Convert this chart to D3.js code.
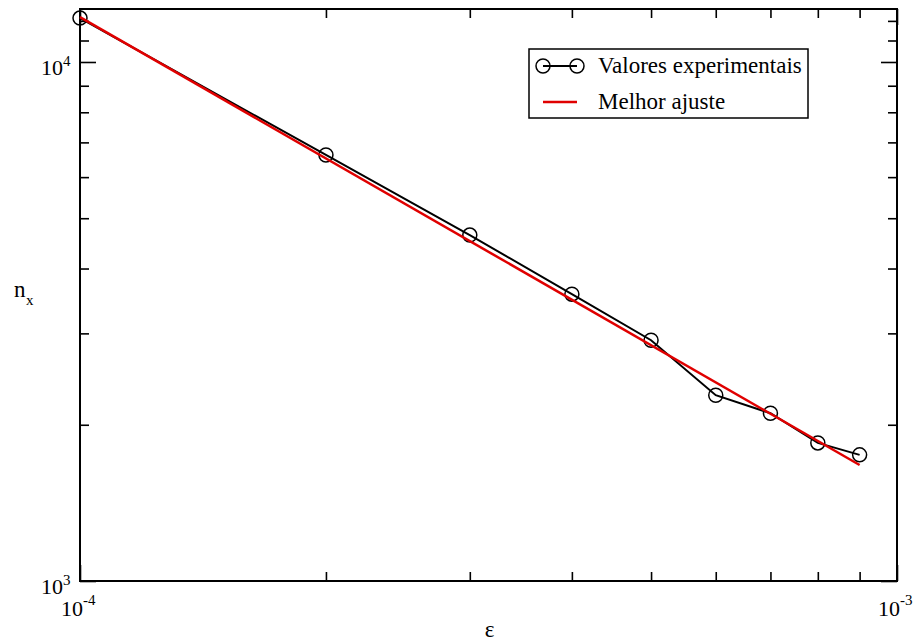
<!DOCTYPE html>
<html>
<head>
<meta charset="utf-8">
<script src="https://cdn.jsdelivr.net/npm/d3@7"></script>
</head>
<body style="margin:0">
<svg id="chart" width="919" height="644" font-family="Liberation Serif"></svg>
<script>
// ---- data ----
const epsilon = [1e-4, 2e-4, 3e-4, 4e-4, 5e-4, 6e-4, 7e-4, 8e-4, 9e-4];
const nx = [12150, 6620, 4640, 3570, 2910, 2280, 2105, 1845, 1750];
const fitEps = [1e-4, 9e-4];
const fitN = [12200, 1673];
const xMajorTicks = [1e-4, 1e-3];
const xMajorExp = ["-4", "-3"];
const xMinorTicks = [2e-4, 3e-4, 4e-4, 5e-4, 6e-4, 7e-4, 8e-4, 9e-4];
const yMajorTicks = [1000, 10000];
const yMajorExp = ["3", "4"];
const yMinorTicks = [2000, 3000, 4000, 5000, 6000, 7000, 8000, 9000, 11000, 12000];
const legendLabels = ["Valores experimentais", "Melhor ajuste"];
const xTitle = "ε";
const yTitle = "n";
const yTitleSub = "x";

// ---- layout ----
const W = 919, H = 644;
const m = { left: 80, right: 22, top: 9, bottom: 63 };
const x0 = m.left, x1 = W - m.right, y0 = H - m.bottom, y1 = m.top;
const FONT = "Liberation Serif";

const svg = d3.select("#chart");
const x = d3.scaleLog().domain([1e-4, 1e-3]).range([x0, x1]);
const y = d3.scaleLog().domain([1000, 12650]).range([y0, y1]);

const g = svg.append("g");

// ticks (inside, mirrored)
function tickAxis(axisFn, scale, ticks, size, transform) {
  const a = axisFn(scale).tickValues(ticks).tickSize(-size).tickFormat("");
  const ax = g.append("g").attr("transform", transform).call(a);
  ax.select(".domain").remove();
  ax.selectAll(".tick line").attr("stroke", "#000").attr("stroke-width", 1.6);
}
const MAJ = 16, MIN = 9;
tickAxis(d3.axisBottom, x, xMajorTicks, MAJ, `translate(0,${y0})`);
tickAxis(d3.axisBottom, x, xMinorTicks, MIN, `translate(0,${y0})`);
tickAxis(d3.axisTop, x, xMajorTicks, MAJ, `translate(0,${y1})`);
tickAxis(d3.axisTop, x, xMinorTicks, MIN, `translate(0,${y1})`);
tickAxis(d3.axisLeft, y, yMajorTicks, MAJ, `translate(${x0},0)`);
tickAxis(d3.axisLeft, y, yMinorTicks, MIN, `translate(${x0},0)`);
tickAxis(d3.axisRight, y, yMajorTicks, MAJ, `translate(${x1},0)`);
tickAxis(d3.axisRight, y, yMinorTicks, MIN, `translate(${x1},0)`);

// frame
g.append("rect").attr("x", x0).attr("y", y1).attr("width", x1 - x0).attr("height", y0 - y1)
  .attr("fill", "none").attr("stroke", "#000").attr("stroke-width", 2);

const tg = svg.append("g");
function txt() {
  return tg.append("text").attr("font-family", FONT).style("font-family", FONT).attr("fill", "#000");
}

// tick labels
const baseFont = 22, supFont = 15;
xMajorTicks.forEach((t, i) => {
  const px = x(t);
  txt().attr("x", px + 3).attr("y", 616).attr("text-anchor", "end")
    .attr("font-size", baseFont).text("10");
  txt().attr("x", px + 3).attr("y", 605).attr("text-anchor", "start")
    .attr("font-size", supFont).text(xMajorExp[i]);
});
yMajorTicks.forEach((t, i) => {
  const py = y(t);
  txt().attr("x", x0 - 17).attr("y", py + 13).attr("text-anchor", "end")
    .attr("font-size", baseFont).text("10");
  txt().attr("x", x0 - 17).attr("y", py + 4).attr("text-anchor", "start")
    .attr("font-size", supFont).text(yMajorExp[i]);
});

// axis titles
txt().attr("x", (x0 + x1) / 2 + 1).attr("y", 637).attr("text-anchor", "middle")
  .attr("font-size", 23).text(xTitle);
txt().attr("x", 14).attr("y", 297).attr("font-size", 23).text(yTitle);
txt().attr("x", 26).attr("y", 305).attr("font-size", 15).text(yTitleSub);

// data line
const pts = epsilon.map((e, i) => [e, nx[i]]);
const line = d3.line().x(d => x(d[0])).y(d => y(d[1]));
g.append("path").datum(pts).attr("d", line).attr("fill", "none")
  .attr("stroke", "#000").attr("stroke-width", 2);
g.selectAll("circle.pt").data(pts).join("circle").attr("class", "pt")
  .attr("cx", d => x(d[0])).attr("cy", d => y(d[1])).attr("r", 7)
  .attr("fill", "none").attr("stroke", "#000").attr("stroke-width", 1.5);

// fit line
const fitPts = fitEps.map((e, i) => [e, fitN[i]]);
g.append("path").datum(fitPts).attr("d", line).attr("fill", "none")
  .attr("stroke", "#e00000").attr("stroke-width", 2.5);

// legend
const lg = svg.append("g");
lg.append("rect").attr("x", 529).attr("y", 49).attr("width", 279).attr("height", 69)
  .attr("fill", "#fff").attr("stroke", "#000").attr("stroke-width", 1.5);
lg.append("line").attr("x1", 543).attr("x2", 577).attr("y1", 66).attr("y2", 66)
  .attr("stroke", "#000").attr("stroke-width", 2);
[543, 577].forEach(cx => lg.append("circle").attr("cx", cx).attr("cy", 66).attr("r", 7)
  .attr("fill", "none").attr("stroke", "#000").attr("stroke-width", 1.5));
lg.append("line").attr("x1", 543).attr("x2", 577).attr("y1", 102).attr("y2", 102)
  .attr("stroke", "#e00000").attr("stroke-width", 2.5);
lg.append("text").attr("font-family", FONT).style("font-family", FONT)
  .attr("x", 598).attr("y", 73).attr("font-size", 23).text(legendLabels[0]);
lg.append("text").attr("font-family", FONT).style("font-family", FONT)
  .attr("x", 598).attr("y", 109).attr("font-size", 23).text(legendLabels[1]);
</script>
</body>
</html>
